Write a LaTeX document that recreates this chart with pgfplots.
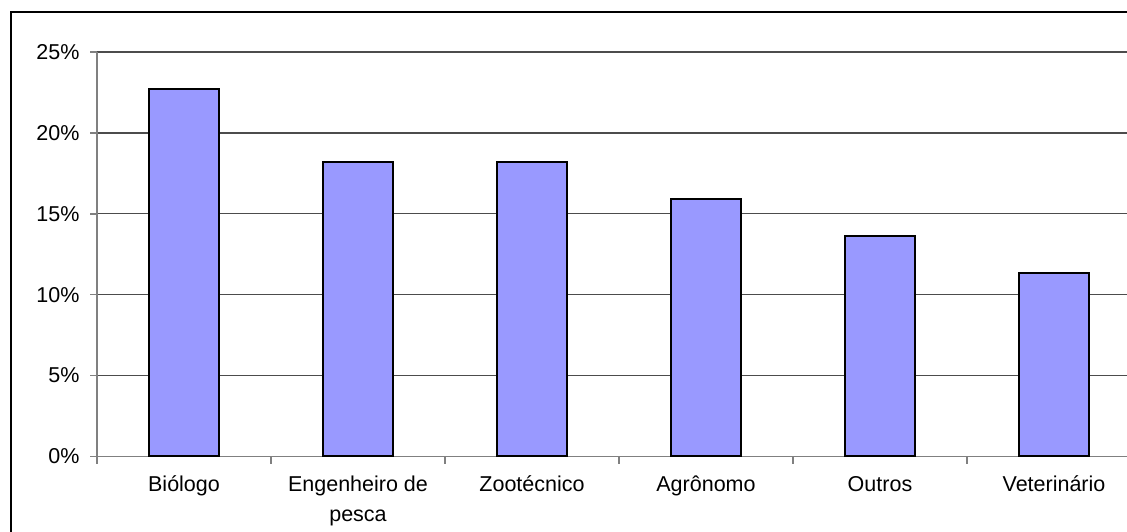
\documentclass[border=0pt]{standalone}
\usepackage{fontspec}
\setmainfont{Liberation Sans}
\usepackage{pgfplots}
\pgfplotsset{compat=1.18}
\definecolor{barfill}{RGB}{153,153,255}
\begin{document}
\begin{tikzpicture}
\useasboundingbox (0,0) rectangle (1127pt,531pt);
\draw[black, line width=1.5pt] (11pt,-20pt) -- (11pt,519pt) -- (1200pt,519pt);
\begin{axis}[
  at={(97pt,74.5pt)}, anchor=south west,
  scale only axis,
  width=1044pt, height=404.5pt,
  xmin=-0.5, xmax=5.5,
  ymin=0, ymax=25,
  axis x line*=bottom, axis y line*=left,
  axis line style={draw=black!50, line width=1.8pt, -},
  ybar, bar width=70pt,
  xtick={0,1,2,3,4,5},
  xticklabels={Biólogo, {Engenheiro de\\pesca}, Zootécnico, Agrônomo, Outros, Veterinário},
  minor xtick={-0.5,0.5,1.5,2.5,3.5,4.5,5.5},
  ytick={0,5,10,15,20,25},
  yticklabels={0\%,5\%,10\%,15\%,20\%,25\%},
  tick align=outside,
  major tick length=7pt,
  minor tick length=7pt,
  x tick style={draw=none},
  minor x tick style={draw=black!50, line width=1.4pt},
  y tick style={draw=black!50, line width=1.4pt},
  ymajorgrids,
  major grid style={draw=black!70, line width=1.2pt},
  tick label style={font=\fontsize{21.5}{30}\selectfont},
  xticklabel style={align=center, yshift=-9pt},
  yticklabel style={xshift=-7pt},
]
\addplot[fill=barfill, draw=black, line width=2.2pt] coordinates {
  (0,22.73) (1,18.18) (2,18.18) (3,15.91) (4,13.64) (5,11.36)
};
\end{axis}
\end{tikzpicture}
\end{document}
